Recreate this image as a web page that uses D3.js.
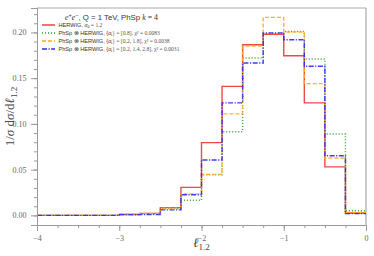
<!DOCTYPE html>
<html>
<head>
<meta charset="utf-8">
<script src="https://cdn.jsdelivr.net/npm/d3@7"></script>
<style>
  body { margin: 0; background: #fff; }
  svg { display: block; }
</style>
</head>
<body>
<div id="chart"></div>
<script>
// bin edges: -4 .. 0, width 0.25
var binEdges = [-4, -3.75, -3.5, -3.25, -3, -2.75, -2.5, -2.25, -2, -1.75, -1.5, -1.25, -1, -0.75, -0.5, -0.25, 0];

var herwig   = [0, 0, 0, 0, 0.001, 0.0022, 0.0085, 0.0306, 0.0795, 0.141, 0.1866, 0.198, 0.1745, 0.123, 0.053, 0.0026];
var phsp1    = [0, 0, 0, 0, 0.0008, 0.0015, 0.0075, 0.0165, 0.0445, 0.0915, 0.172, 0.199, 0.201, 0.171, 0.089, 0.0051];
var phsp2    = [0, 0, 0, 0, 0.0015, 0.002, 0.008, 0.0235, 0.0448, 0.111, 0.185, 0.2164, 0.2004, 0.144, 0.0627, 0.0033];
var phsp3    = [0, 0, 0, 0, 0.0008, 0.0008, 0.006, 0.0226, 0.0605, 0.123, 0.1665, 0.1995, 0.192, 0.163, 0.0652, 0.0019];

var xTicks = [-4, -3, -2, -1, 0];
var xTickLabels = ["\u22124", "\u22123", "\u22122", "\u22121", "0"];
var yTicks = [0, 0.05, 0.10, 0.15, 0.20];
var yTickLabels = ["0.00", "0.05", "0.10", "0.15", "0.20"];

var series = [
    { values: herwig, color: "#f03333", dash: null },
    { values: phsp1, color: "#1f9a1f", dash: "1,2" },
    { values: phsp2, color: "#ffaa22", dash: "4,2" },
    { values: phsp3, color: "#2a2aee", dash: "5,1.5,1.2,1.5" }
];

const width = 374;
const height = 256;
const mLeft = 37, mRight = 366, mTop = 8, mBottom = 225;

const svg = d3.select("#chart")
    .append("svg")
    .attr("width", width)
    .attr("height", height);

const x = d3.scaleLinear().domain([-4, 0]).range([mLeft, mRight]);
const y = d3.scaleLinear().domain([-0.0105, 0.2267]).range([mBottom, mTop]);

// frame top/right
svg.append("line").attr("x1", mLeft).attr("x2", mRight).attr("y1", mTop).attr("y2", mTop)
    .attr("stroke", "#aaa").attr("stroke-width", 1);
svg.append("line").attr("x1", mRight).attr("x2", mRight).attr("y1", mTop).attr("y2", mBottom)
    .attr("stroke", "#aaa").attr("stroke-width", 1.2);

// histograms
const line = d3.line()
    .x(d => x(d[0]))
    .y(d => y(d[1]))
    .curve(d3.curveStepAfter);

series.forEach(function (s) {
    var pts = s.values.map((v, i) => [binEdges[i], v]);
    pts.push([binEdges[binEdges.length - 1], s.values[s.values.length - 1]]);
    svg.append("path")
        .attr("d", line(pts))
        .attr("fill", "none")
        .attr("stroke", s.color)
        .attr("stroke-width", 1.4)
        .attr("stroke-dasharray", s.dash)
        .attr("opacity", 0.9);
});

// axes
const xAxis = d3.axisBottom(x).tickValues(xTicks).tickSize(6)
    .tickFormat((d, i) => xTickLabels[i]);
const xMinor = d3.axisBottom(x).tickValues(d3.range(-4, 0.001, 0.25)).tickSize(3).tickFormat("");
const yAxis = d3.axisLeft(y).tickValues(yTicks).tickSize(6)
    .tickFormat((d, i) => yTickLabels[i]);
const yMinor = d3.axisLeft(y).tickValues(d3.range(0, 0.2201, 0.01)).tickSize(3).tickFormat("");

function style(g) {
    g.select(".domain").attr("stroke", "#999");
    g.selectAll(".tick line").attr("stroke", "#999");
    g.selectAll(".tick text").attr("fill", "#666")
        .style("font-family", "'Liberation Serif', serif").style("font-size", "8px");
}

svg.append("g").attr("transform", `translate(0,${mBottom})`).call(xMinor).call(style);
svg.append("g").attr("transform", `translate(0,${mBottom})`).call(xAxis).call(style)
    .selectAll(".tick text").attr("dy", "0.9em");
svg.append("g").attr("transform", `translate(${mLeft},0)`).call(yMinor).call(style);
svg.append("g").attr("transform", `translate(${mLeft},0)`).call(yAxis).call(style)
    .selectAll(".tick text").attr("dx", "-0.2em");

// axis labels
const ylab = svg.append("text")
    .attr("transform", `translate(14,${(mTop + mBottom) / 2}) rotate(-90)`)
    .attr("text-anchor", "middle")
    .style("font-family", "'Liberation Serif', serif")
    .style("font-size", "13px")
    .attr("fill", "#444");
ylab.append("tspan").text("1/");
ylab.append("tspan").style("font-style", "italic").text("\u03c3");
ylab.append("tspan").text("  d");
ylab.append("tspan").style("font-style", "italic").text("\u03c3");
ylab.append("tspan").text("/d");
ylab.append("tspan").style("font-style", "italic").text("\u2113");
ylab.append("tspan").attr("dy", 3).style("font-size", "9px").text("1.2");

const xlab = svg.append("text")
    .attr("x", (mLeft + mRight) / 2)
    .attr("y", 247)
    .attr("text-anchor", "middle")
    .style("font-family", "'Liberation Serif', serif")
    .style("font-size", "13px")
    .attr("fill", "#444");
xlab.append("tspan").style("font-style", "italic").text("\u2113");
xlab.append("tspan").attr("dy", 3).style("font-size", "9px").text("1.2");

// legend
const title = svg.append("text")
    .attr("x", 65).attr("y", 19.5)
    .style("font-family", "'Liberation Sans', sans-serif")
    .style("font-size", "7.8px")
    .attr("fill", "#333");
title.append("tspan").style("font-family", "'Liberation Serif', serif").style("font-style", "italic").text("e");
title.append("tspan").attr("dy", -2.8).style("font-size", "5.5px").text("+");
title.append("tspan").attr("dy", 2.8).style("font-family", "'Liberation Serif', serif").style("font-style", "italic").text("e");
title.append("tspan").attr("dy", -2.8).style("font-size", "5.5px").text("\u2212");
title.append("tspan").attr("dy", 2.8).text(", Q = 1 TeV, PhSp ");
title.append("tspan").style("font-family", "'Liberation Serif', serif").style("font-style", "italic").text("k");
title.append("tspan").style("font-family", "'Liberation Serif', serif").text(" = 4");

var legendLabels = [
    ["HERWIG, ", "\u03b1", "0", " = 1.2"],
    ["PhSp \u2297 HERWIG, {", "\u03b1", "i", "} = [0.8], \u03c7\u00b2 = 0.0083"],
    ["PhSp \u2297 HERWIG, {", "\u03b1", "i", "} = [0.2, 1.8], \u03c7\u00b2 = 0.0038"],
    ["PhSp \u2297 HERWIG, {", "\u03b1", "i", "} = [0.2, 1.4, 2.8], \u03c7\u00b2 = 0.0031"]
];

const legendG = svg.selectAll(".legend")
    .data(series)
    .enter().append("g")
    .attr("class", "legend")
    .attr("transform", (d, i) => `translate(42,${25 + i * 8})`);

legendG.append("line")
    .attr("x1", 0).attr("x2", 13).attr("y1", 0).attr("y2", 0)
    .attr("stroke", d => d.color)
    .attr("stroke-width", 1.4)
    .attr("stroke-dasharray", d => d.dash);

legendG.each(function (d, i) {
    var lab = legendLabels[i];
    var t = d3.select(this).append("text")
        .attr("x", 16.5).attr("y", 2)
        .style("font-family", "'Liberation Sans', sans-serif")
        .style("font-size", "5.6px")
        .attr("fill", "#333");
    t.append("tspan").text(lab[0]);
    t.append("tspan").style("font-family", "'Liberation Serif', serif").style("font-style", "italic").text(lab[1]);
    t.append("tspan").attr("dy", 1.2).style("font-size", "4px").style("font-family", "'Liberation Serif', serif").text(lab[2]);
    t.append("tspan").attr("dy", -1.2).style("font-family", "'Liberation Serif', serif").attr("fill", "#555").text(lab[3]);
});
</script>
</body>
</html>
